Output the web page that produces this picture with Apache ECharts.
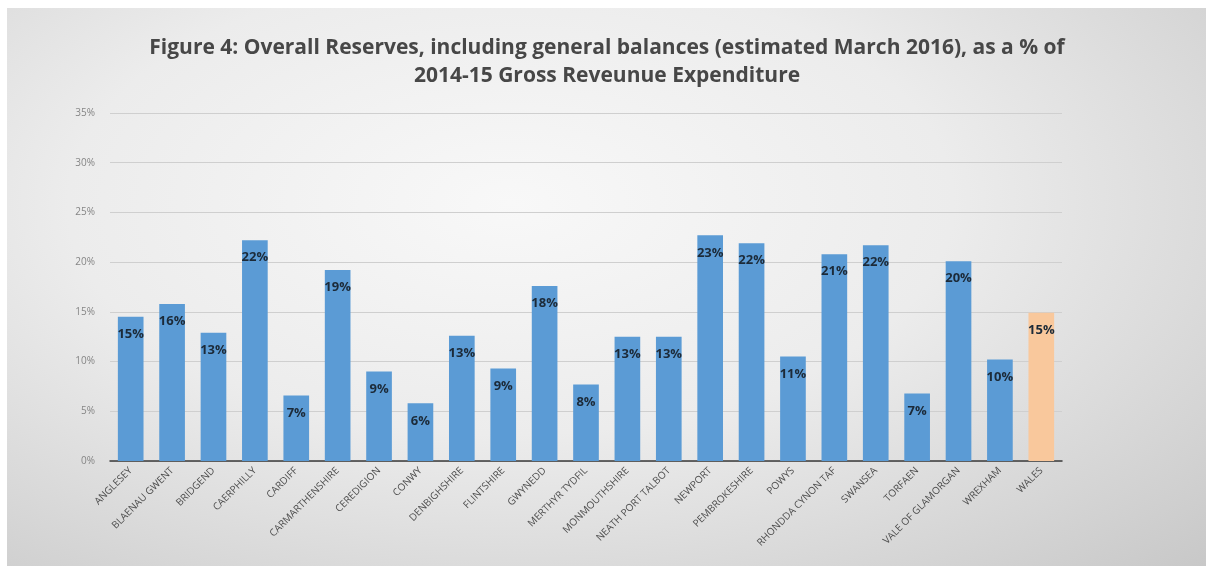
<!DOCTYPE html>
<html>
<head>
<meta charset="utf-8">
<script src="https://cdn.jsdelivr.net/npm/echarts@6/dist/echarts.min.js"></script>
<style>
html,body{margin:0;padding:0;background:#fff;}
#bg{position:absolute;left:7px;top:8px;width:1199px;height:558px;
background:radial-gradient(ellipse at 42% 35%, #f8f8f8 0%, #ececec 45%, #c8c8c8 100%);}
#chart{position:absolute;left:0;top:0;width:1214px;height:566px;}
</style>
</head>
<body>
<div id="bg"></div>
<div id="chart"></div>
<script>
const categories = ["ANGLESEY","BLAENAU GWENT","BRIDGEND","CAERPHILLY","CARDIFF","CARMARTHENSHIRE","CEREDIGION","CONWY","DENBIGHSHIRE","FLINTSHIRE","GWYNEDD","MERTHYR TYDFIL","MONMOUTHSHIRE","NEATH PORT TALBOT","NEWPORT","PEMBROKESHIRE","POWYS","RHONDDA CYNON TAF","SWANSEA","TORFAEN","VALE OF GLAMORGAN","WREXHAM","WALES"];
const values = [14.5,15.8,12.9,22.2,6.6,19.2,9.0,5.8,12.6,9.3,17.6,7.7,12.5,12.5,22.7,21.9,10.5,20.8,21.7,6.8,20.1,10.2,14.9];
const labels = ["15%","16%","13%","22%","7%","19%","9%","6%","13%","9%","18%","8%","13%","13%","23%","22%","11%","21%","22%","7%","20%","10%","15%"];
const yTicks = [0,5,10,15,20,25,30,35];
const highlight = "WALES";

const chart = echarts.init(document.getElementById('chart'));
chart.setOption({
  backgroundColor: 'transparent',
  title: {
    text: 'Figure 4: Overall Reserves, including general balances (estimated March 2016), as a % of\n2014-15 Gross Reveunue Expenditure',
    left: 'center', top: 29,
    textStyle: {fontFamily: 'Open Sans', fontWeight: 'bold', fontSize: 21, color: '#474747', lineHeight: 28}
  },
  grid: {left: 110, right: 152, top: 113, bottom: 105, containLabel: false},
  xAxis: {
    type: 'category', data: categories,
    axisLine: {lineStyle: {color: '#3a3a3a', width: 1.5}},
    axisTick: {show: false},
    axisLabel: {rotate: 45, interval: 0, fontSize: 10, color: '#4d4d4d', fontFamily: 'Open Sans', margin: 8}
  },
  yAxis: {
    type: 'value', min: 0, max: 35, interval: 5,
    axisLabel: {formatter: v => yTicks.includes(v) ? v + '%' : '', fontSize: 10, color: '#858585', fontFamily: 'Open Sans', margin: 15},
    axisLine: {show: false}, axisTick: {show: false},
    splitLine: {lineStyle: {color: '#cfcfcf', width: 1}}
  },
  series: [{
    type: 'bar',
    data: values.map((v, i) => ({
      value: v,
      itemStyle: {color: categories[i] === highlight ? '#f9c89c' : '#5b9bd5'}
    })),
    barCategoryGap: '38%',
    label: {
      show: true, position: 'insideTop', distance: 11,
      formatter: p => labels[p.dataIndex],
      fontFamily: 'Open Sans', fontWeight: 'bold', fontSize: 13, color: '#1c2a38'
    }
  }]
});
</script>
</body>
</html>
